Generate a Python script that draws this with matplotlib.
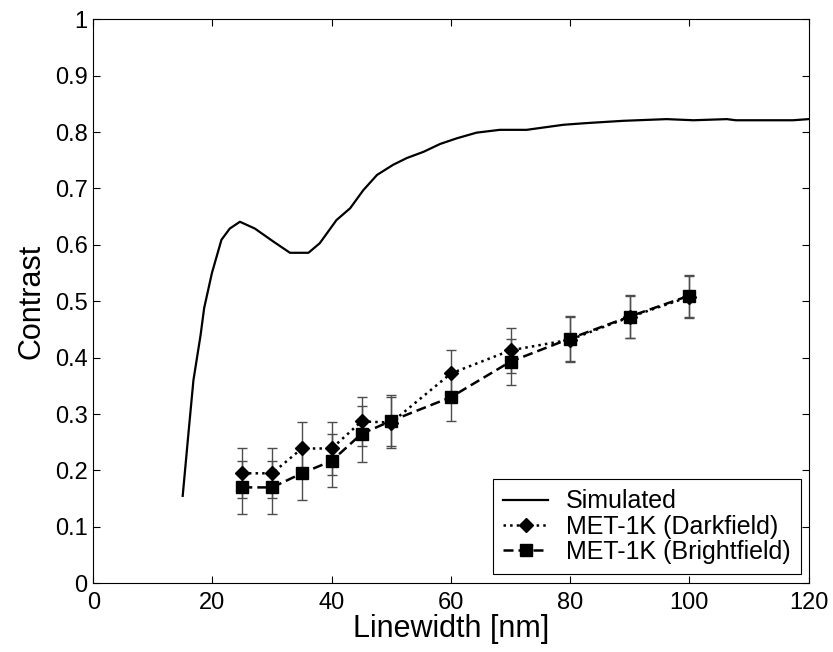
import matplotlib
matplotlib.use("Agg")
import matplotlib.pyplot as plt
import numpy as np

plt.rcParams["font.family"] = ["Liberation Sans", "DejaVu Sans"]

# simulated contrast curve
sim_x = [15, 16, 16.8, 18, 18.6, 19.9, 21.5, 22.9, 24.6, 27.1, 30.2, 33.0, 36.1, 38.0,
         40.8, 43.1, 45.3, 47.6, 50.3, 52.6, 55.4, 58.2, 61.0, 64.3, 68.2, 72.7, 78.9,
         82.8, 88.9, 96.2, 100.7, 106.3, 107.8, 117.4, 120]
sim_y = [0.155, 0.27, 0.36, 0.44, 0.488, 0.55, 0.609, 0.629, 0.641, 0.629, 0.606, 0.586,
         0.586, 0.603, 0.644, 0.665, 0.697, 0.724, 0.742, 0.754, 0.765, 0.779, 0.789,
         0.799, 0.804, 0.804, 0.813, 0.816, 0.820, 0.823, 0.821, 0.823, 0.821, 0.821, 0.823]

# measured contrast
lw_nm = [25, 30, 35, 40, 45, 50, 60, 70, 80, 90, 100]
dark = [0.195, 0.195, 0.239, 0.239, 0.287, 0.285, 0.372, 0.413, 0.432, 0.472, 0.508]
dark_err = [0.044, 0.044, 0.047, 0.047, 0.043, 0.045, 0.042, 0.040, 0.040, 0.037, 0.037]
bright = [0.170, 0.170, 0.195, 0.217, 0.265, 0.288, 0.330, 0.393, 0.434, 0.473, 0.510]
bright_err = [0.047, 0.047, 0.047, 0.047, 0.050, 0.045, 0.043, 0.041, 0.040, 0.038, 0.037]

fig = plt.figure(figsize=(8.33, 6.52), dpi=100)
ax = fig.add_axes([0.112, 0.1054, 0.8586, 0.865])

sim_line, = ax.plot(sim_x, sim_y, color="black", linewidth=1.6, label="Simulated")
eb_dark = ax.errorbar(lw_nm, dark, yerr=dark_err, color="black", linestyle=":", linewidth=1.8,
                      marker="D", markersize=7, ecolor="0.3", elinewidth=1, capsize=3.4,
                      label="MET-1K (Darkfield)")
eb_bright = ax.errorbar(lw_nm, bright, yerr=bright_err, color="black", linestyle="--", linewidth=1.8,
                        dashes=(4, 2), marker="s", markersize=9, ecolor="0.3", elinewidth=1,
                        capsize=3.4, label="MET-1K (Brightfield)")

ax.set_xlim(0, 120)
ax.set_ylim(0, 1)
ax.set_xticks(np.arange(0, 121, 20))
ax.set_yticks(np.arange(0, 1.01, 0.1))
ax.set_yticklabels(["0", "0.1", "0.2", "0.3", "0.4", "0.5", "0.6", "0.7", "0.8", "0.9", "1"])
ax.tick_params(direction="in", top=True, right=True, labelsize=17, length=5, width=0.8)
ax.tick_params(axis="x", pad=6)
ax.tick_params(axis="y", pad=4)
for sp in ax.spines.values():
    sp.set_linewidth(0.8)
ax.set_xlabel("Linewidth [nm]", fontsize=22, labelpad=0)
ax.set_ylabel("Contrast", fontsize=22, labelpad=6)

leg = ax.legend([sim_line, eb_dark[0], eb_bright[0]],
                ["Simulated", "MET-1K (Darkfield)", "MET-1K (Brightfield)"],
                loc="lower right", bbox_to_anchor=(0.989, 0.016), borderaxespad=0,
                fontsize=18, fancybox=False, edgecolor="black", framealpha=1,
                borderpad=0.42, labelspacing=0.05, handlelength=1.8, handletextpad=0.7)
leg.get_frame().set_linewidth(0.8)

fig.savefig("out.png", dpi=100)
